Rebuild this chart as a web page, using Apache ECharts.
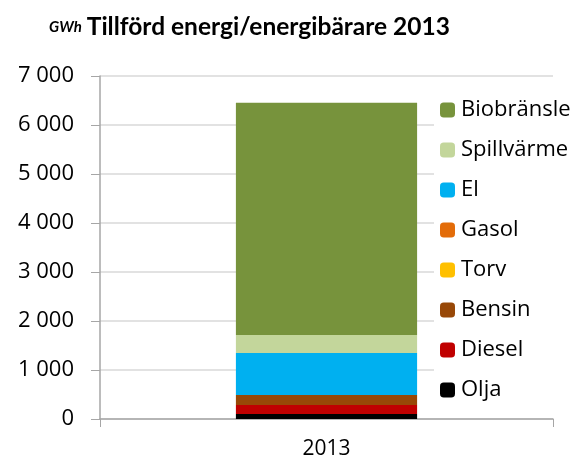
<!DOCTYPE html>
<html>
<head>
<meta charset="utf-8">
<script src="https://cdn.jsdelivr.net/npm/echarts@6/dist/echarts.min.js"></script>
<style>
    html, body { margin: 0; padding: 0; background: #fff; }
    #chart { width: 584px; height: 463px; }
</style>
</head>
<body>
<div id="chart"></div>
<script type="text/javascript">
    // data, GWh
    var years = ['2013'];
    var seriesNames = ['Olja', 'Diesel', 'Bensin', 'Torv', 'Gasol', 'El', 'Spillvärme', 'Biobränsle'];
    var olja = [100];
    var diesel = [185];
    var bensin = [205];
    var torv = [0];
    var gasol = [0];
    var el = [857];
    var spillvarme = [367];
    var biobransle = [4740];
    var colors = ['#000000', '#C00000', '#984807', '#FFC000', '#E36C09', '#00B0F0', '#C3D69B', '#77933C'];

    var values = [olja, diesel, bensin, torv, gasol, el, spillvarme, biobransle];
    var titleFont = 'Lato';
    var font = 'Open Sans';

    var series = [];
    for (var i = 0; i < seriesNames.length; i++) {
        series.push({
            name: seriesNames[i],
            type: 'bar',
            stack: 'total',
            barWidth: '40%',
            itemStyle: { color: colors[i] },
            data: values[i]
        });
    }

    var myChart = echarts.init(document.getElementById('chart'));
    var option = {
        animation: false,
        title: {
            text: '{a|GWh} {b|Tillförd energi/energibärare 2013}',
            left: 44,
            top: 10,
            textStyle: {
                rich: {
                    a: { fontFamily: titleFont, fontStyle: 'italic', fontSize: 15, color: '#000' },
                    b: { fontFamily: titleFont, fontWeight: 'bold', fontSize: 24.5, color: '#000' }
                }
            }
        },
        legend: {
            orient: 'vertical',
            left: 434,
            top: 97,
            data: seriesNames.slice().reverse(),
            itemWidth: 15,
            itemHeight: 15,
            itemGap: 18,
            backgroundColor: '#fff',
            padding: [2, 6, 2, 6],
            textStyle: { fontFamily: font, fontSize: 22, color: '#000', padding: [0, 0, 0, 1] }
        },
        grid: {
            left: 100,
            right: 31,
            top: 76,
            bottom: 44,
            containLabel: false
        },
        xAxis: {
            type: 'category',
            data: years,
            axisLine: { lineStyle: { color: '#A6A6A6', width: 1.5 } },
            axisTick: { show: true, length: 8, lineStyle: { color: '#A6A6A6' } },
            axisLabel: { fontFamily: font, fontSize: 21, color: '#000', margin: 20 }
        },
        yAxis: {
            type: 'value',
            min: 0,
            max: 7000,
            interval: 1000,
            axisLine: { show: true, lineStyle: { color: '#A6A6A6', width: 1.5 } },
            axisTick: { show: true, length: 9, lineStyle: { color: '#A6A6A6' } },
            splitLine: { lineStyle: { color: '#D9D9D9', width: 1.5 } },
            axisLabel: {
                fontFamily: font,
                fontSize: 22,
                color: '#000',
                margin: 26,
                formatter: function (v) {
                    return String(v).replace(/\B(?=(\d{3})+(?!\d))/g, ' ');
                }
            }
        },
        series: series
    };
    myChart.setOption(option);
</script>
</body>
</html>
